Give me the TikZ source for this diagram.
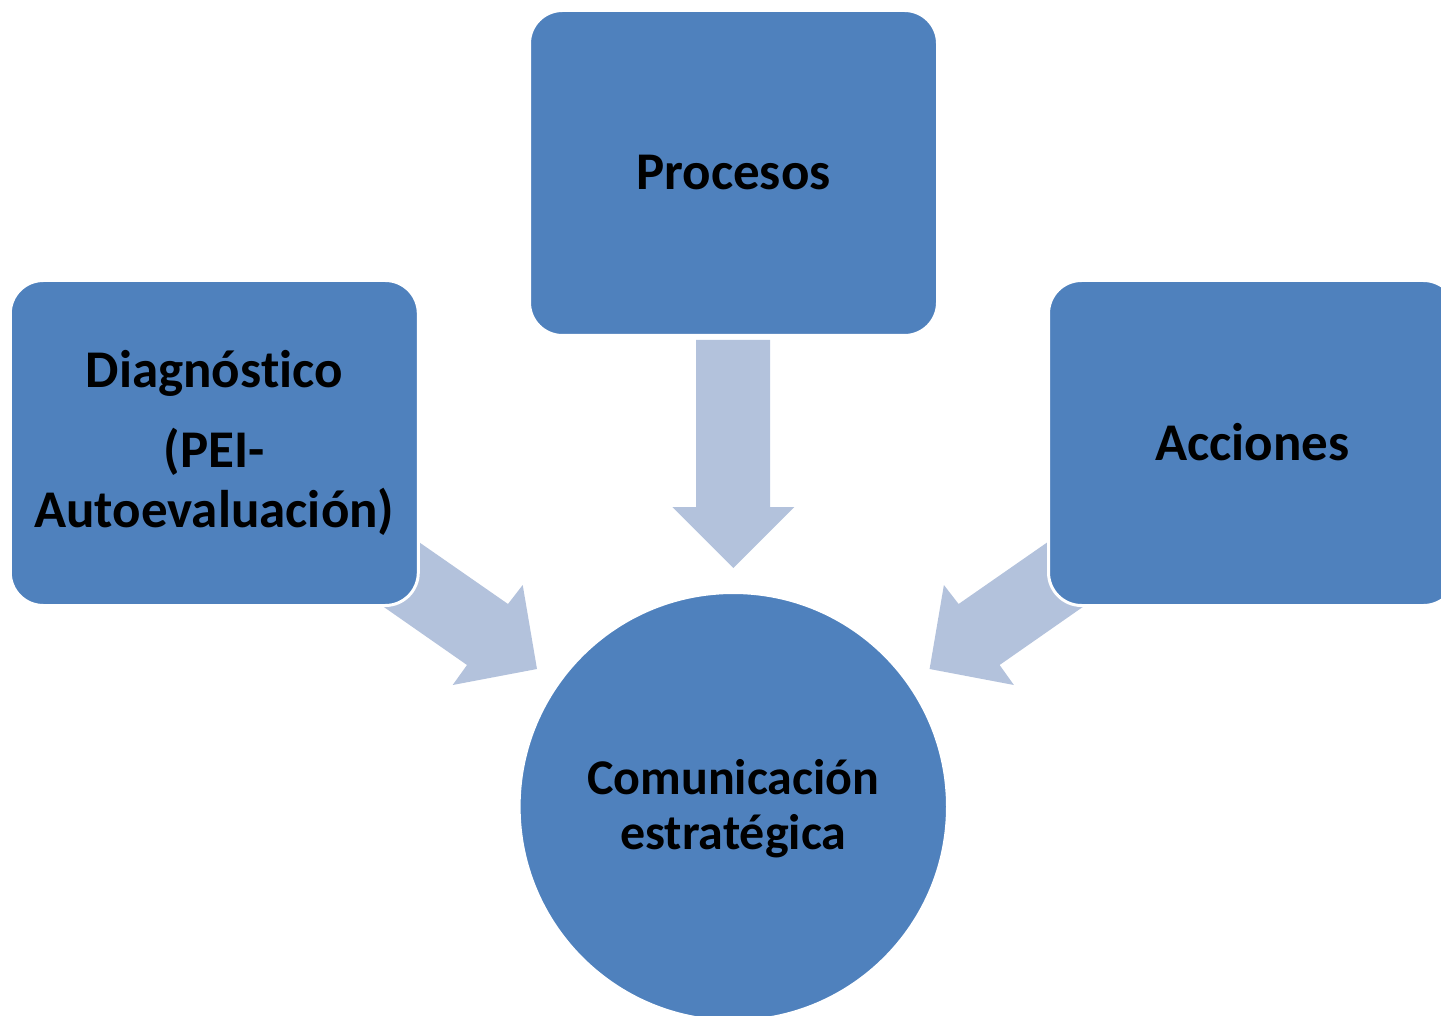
\documentclass[tikz,border=0pt]{standalone}
\usepackage{fontspec}
\setmainfont[Ligatures=NoCommon]{Carlito}
\definecolor{boxblue}{HTML}{4F81BD}
\definecolor{arrowblue}{HTML}{B3C2DC}
\begin{document}
\begin{tikzpicture}[x=1pt,y=-1pt,
  box/.style={rectangle, rounded corners=33pt, fill=boxblue, draw=white, line width=3pt,
    minimum width=408pt, minimum height=325pt, inner sep=0pt},
  hub/.style={circle, fill=boxblue, draw=white, line width=3pt, minimum size=428.4pt, inner sep=0pt},
  txt/.style={font=\fontsize{53}{60}\selectfont\bfseries, text=black, anchor=base, inner sep=0pt},
  hubtxt/.style={txt, font=\fontsize{50}{56}\selectfont\bfseries},
  arr/.style={fill=arrowblue}]
\useasboundingbox (0,0) rectangle (1441,1016);
% down arrow
\fill[arr] (696,340) -- (770,340) -- (770,507) -- (794.3,507) -- (733.3,568)
  -- (672.3,507) -- (696,507) -- cycle;
% left arrow
\fill[arr] (381.7,516.2) -- (508,604) -- (522.7,585) -- (537,669) -- (452.7,685)
  -- (467,665) -- (348,582) -- cycle;
% right arrow (mirror)
\fill[arr] (1084.9,516.2) -- (958.6,604) -- (943.9,585) -- (929.6,669) -- (1013.9,685)
  -- (999.6,665) -- (1118.6,582) -- cycle;
% boxes
\node[box] (proc) at (733.5,173) {};
\node[box] (diag) at (214.3,443) {};
\node[box] (acc) at (1252.5,443) {};
\node[hub] (com) at (733.3,806.7) {};
% texts
\node[txt] (procT) at (733.5,190) {Procesos};
\node[txt] (accT) at (1252.5,460) {Acciones};
\node[txt] (diagT1) at (214.3,388) {Diagnóst\kern0pt ico};
\node[txt] (diagT2) at (214.3,467) {(PEI-};
\node[txt] (diagT3) at (214.3,527) {Autoevaluación)};
\node[hubtxt] (comT1) at (733.3,794) {Comunicación};
\node[hubtxt] (comT2) at (733.3,849) {estratégica};
\end{tikzpicture}
\end{document}
